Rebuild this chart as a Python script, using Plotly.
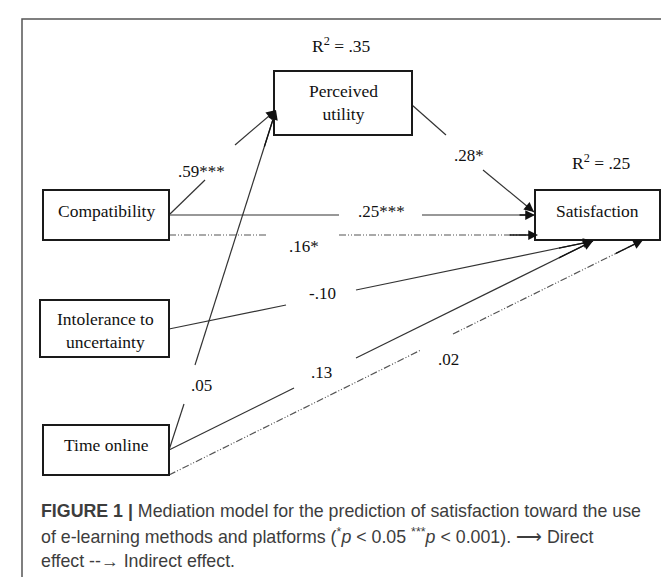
import plotly.graph_objects as go

# ---- data ----
nodes = ["Perceived<br>utility", "Compatibility", "Satisfaction", "Intolerance to<br>uncertainty", "Time online"]
path_labels = [".59***", ".05", ".28*", ".25***", ".16*", "-.10", ".13", ".02"]
path_kinds = ["direct", "direct", "direct", "direct", "indirect", "direct", "direct", "indirect"]
r2_labels = ["R<sup>2</sup> = .35", "R<sup>2</sup> = .25"]
caption_lines = [
    "<b>FIGURE 1 |</b> Mediation model for the prediction of satisfaction toward the use",
    "of e-learning methods and platforms (<sup>*</sup><i>p</i> < 0.05 <sup>***</sup><i>p</i> < 0.001). ⟶ Direct",
    "effect --→ Indirect effect.",
]

# ---- layout (pixel space) ----
W, H = 669, 577
boxes = [(266, 404, 63, 127), (35, 161, 182, 232), (527, 652, 182, 232), (32, 161, 292, 349), (35, 161, 417, 467)]
box_text = [(335, 94), (98, 203), (589, 203), (97, 322), (98, 437)]
# path: start, end, gap start, gap end (points along line), label position
paths = [
    ((162, 206), (268, 102), (197, 172), (227, 137), (193, 163)),
    ((161, 442), (268, 102), (176, 396), (187, 357), (193, 377)),
    ((404, 97), (526, 204), (438, 127), (475, 162), (461, 147)),
    ((161, 207), (527, 207), (331, 207), (414, 207), (373, 203)),
    ((161, 227), (530, 227), (260, 227), (331, 227), (296, 238)),
    ((161, 321), (585, 233), (278, 297), (348, 282), (314, 285)),
    ((161, 442), (585, 233), (286, 380), (348, 350), (313, 364)),
    ((161, 467), (635, 232), (413, 342), (445, 326), (440, 351)),
]
r2_pos = [(333, 37), (593, 154)]
serif = "Liberation Serif"

fig = go.Figure()
shapes = []
annotations = []

# outer frame
shapes.append(dict(type="path", path=f"M 14 {H+5} L 14 11 L 661 11 L 661 {H+5}",
                   line=dict(color="#555", width=1.5)))

for (x0, x1, y0, y1) in boxes:
    shapes.append(dict(type="rect", x0=x0, x1=x1, y0=y0, y1=y1,
                       line=dict(color="#1a1a1a", width=2), fillcolor="white", layer="above"))
for name, (tx, ty) in zip(nodes, box_text):
    annotations.append(dict(x=tx, y=ty, text=name, showarrow=False,
                            font=dict(family=serif, size=17.5, color="#111"), xanchor="center", yanchor="middle"))

for lab, kind, (s, e, g0, g1, lp) in zip(path_labels, path_kinds, paths):
    dash = "solid" if kind == "direct" else "7px,2px,1px,2px,1px,2px"
    col = "#333" if kind == "direct" else "#555"
    for (a, b) in [(s, g0), (g1, e)]:
        fig.add_trace(go.Scatter(x=[a[0], b[0]], y=[a[1], b[1]], mode="lines",
                                 line=dict(color=col, width=1.2, dash=dash), hoverinfo="skip", showlegend=False))
    # arrowhead
    annotations.append(dict(x=e[0], y=e[1], ax=g1[0] + (e[0] - g1[0]) * 0.85, ay=g1[1] + (e[1] - g1[1]) * 0.85,
                            xref="x", yref="y", axref="x", ayref="y", text="", showarrow=True,
                            arrowhead=2, arrowsize=1.5, arrowwidth=1.3, arrowcolor="#111", standoff=0))
    annotations.append(dict(x=lp[0], y=lp[1], text=lab, showarrow=False,
                            font=dict(family=serif, size=17, color="#111"), xanchor="center", yanchor="middle"))

for t, (tx, ty) in zip(r2_labels, r2_pos):
    annotations.append(dict(x=tx, y=ty, text=t, showarrow=False,
                            font=dict(family=serif, size=17.5, color="#111"), xanchor="center", yanchor="middle"))

for i, line in enumerate(caption_lines):
    annotations.append(dict(x=31, y=503 + i * 25, text=line, showarrow=False,
                            font=dict(family="Liberation Sans", size=17.8, color="#3d3d3d"),
                            xanchor="left", yanchor="middle"))

fig.update_layout(
    width=W, height=H, margin=dict(l=0, r=0, t=0, b=0),
    paper_bgcolor="white", plot_bgcolor="white",
    xaxis=dict(range=[0, W], visible=False, fixedrange=True),
    yaxis=dict(range=[H, 0], visible=False, fixedrange=True),
    shapes=shapes, annotations=annotations,
)
fig.write_html("out.html")
